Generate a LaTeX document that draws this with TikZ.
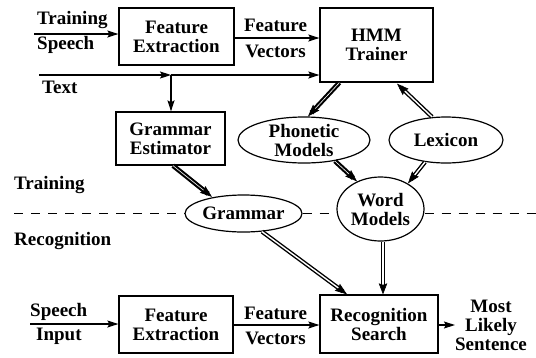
\documentclass[tikz,border=0pt]{standalone}
\usepackage{fontspec}
\setmainfont{Liberation Serif}
\usetikzlibrary{arrows.meta,shapes.geometric,calc,decorations.markings}
\tikzset{
  lbl/.style={font=\fontsize{19}{19}\selectfont\bfseries, inner sep=0pt, align=center},
  blk/.style={lbl, draw, line width=1.3pt},
  oval/.style={lbl, draw, ellipse, line width=1.2pt},
  arr/.style={line width=1.1pt, -{Stealth[length=11pt,width=7pt,inset=2pt]}},
  % double shaft with a solid head placed at the end of the path
  dblhead/.style={shorten >=5pt, postaction={decorate},
    decoration={markings, mark=at position 1 with {\arrow[line width=0.6pt]{Stealth[length=#1,width=8.5pt,inset=1.5pt]}}}},
  heavy/.style={double, line width=2.1pt, double distance=0.6pt, dblhead=12pt},
  hollow/.style={double, line width=1.4pt, double distance=1.4pt, dblhead=12pt},
  thindbl/.style={double, line width=1pt, double distance=2pt, dblhead=11pt},
  sep/.style={line width=1.1pt, dash pattern=on 9pt off 8pt},
}
\begin{document}
\begin{tikzpicture}[x=1pt,y=-1pt]
\useasboundingbox (0,0) rectangle (536,357);

% blocks
\node[blk, minimum width=115pt, minimum height=57pt] (fe1) at (176.5,36.5) {Feature\\Extraction};
\node[blk, minimum width=113pt, minimum height=74pt] (hmm) at (376.5,45) {HMM\\Trainer};
\node[blk, minimum width=109pt, minimum height=53pt] (ge) at (170.5,138.5) {Grammar\\Estimator};
\node[blk, minimum width=114pt, minimum height=57pt] (fe2) at (176,324.5) {Feature\\Extraction};
\node[blk, minimum width=118pt, minimum height=58pt] (rs) at (379,324) {Recognition\\Search};

% models
\node[oval, minimum width=132pt, minimum height=46pt] (phon) at (304,140) {Phonetic\\Models};
\node[oval, minimum width=114pt, minimum height=46pt] (lex) at (446,140) {Lexicon};
\node[oval, minimum width=117pt, minimum height=37pt] (gram) at (243.5,213.5) {Grammar};
\node[oval, minimum width=87pt, minimum height=64pt] (wm) at (380.5,209) {Word\\Models};

% free labels
\node[lbl, anchor=west] (ltrs1) at (37,20) {Training};
\node[lbl, anchor=west] (ltrs2) at (37,45) {Speech};
\node[lbl, anchor=west] (ltext) at (42,87) {Text};
\node[lbl] (lfv1) at (275.5,25) {Feature};
\node[lbl] (lfv2) at (275.5,51) {Vectors};
\node[lbl, anchor=west] (ltrain) at (14,185.5) {Training};
\node[lbl, anchor=west] (lrec) at (14,240.5) {Recognition};
\node[lbl, anchor=west] (lsp1) at (30,311.5) {Speech};
\node[lbl, anchor=west] (lsp2) at (36,336.5) {Input};
\node[lbl] (lfv3) at (275.5,313) {Feature};
\node[lbl] (lfv4) at (275.5,338) {Vectors};
\node[lbl] (lout) at (491,325) {Most\\Likely\\Sentence};

% inputs and junctions
\coordinate (sin1) at (34,34);
\coordinate (tin) at (39,75);
\coordinate (tj) at (171,75);
\coordinate (sin2) at (30,324);
\coordinate (dl) at (14,213.5);
\coordinate (dr) at (536,213.5);

% thin connectors
\draw[arr] (sin1) -- (fe1.west |- sin1);
\draw[arr] (fe1.east |- 0,38) -- (hmm.west |- 0,38);
\draw[arr] (tin) -- (tj);
\draw[arr] (tj) -- (hmm.west |- tj);
\draw[arr] (tj) -- (ge.north -| tj);
\draw[arr] (sin2) -- (fe2.west |- sin2);
\draw[arr] (fe2.east |- 0,325) -- (rs.west |- 0,325);
\draw[arr] (rs.east |- 0,325) -- (lout.west |- 0,325);

% model flow
\draw[heavy]  ($(hmm.south west)+(20,0)$) -- ($(phon.north)+(4,0)$);
\draw[hollow] ($(lex.north)+(-14,0.5)$) -- ($(hmm.south)+(20.5,1)$);
\draw[heavy]  ($(ge.south)+(2.5,0)$) -- ($(gram.north)+(-31.5,2.5)$);
\draw[heavy]  ($(phon.south)+(31,-2.5)$) -- ($(wm.north)+(-23.5,5)$);
\draw[hollow] ($(lex.south)+(-21,-1.5)$) -- ($(wm.north)+(27.5,7)$);
\draw[hollow] ($(gram.south)+(18.5,-1)$) -- ($(rs.north)+(-32,0)$);
\draw[thindbl] ($(wm.south)+(2.5,0)$) -- ($(rs.north)+(4,0)$);

% training / recognition divider
\draw[sep] (dl) -- (gram.west);
\draw[sep] (gram.east) -- (gram.east -| wm.west);
\draw[sep] (wm.east |- dr) -- (dr);
\end{tikzpicture}
\end{document}
